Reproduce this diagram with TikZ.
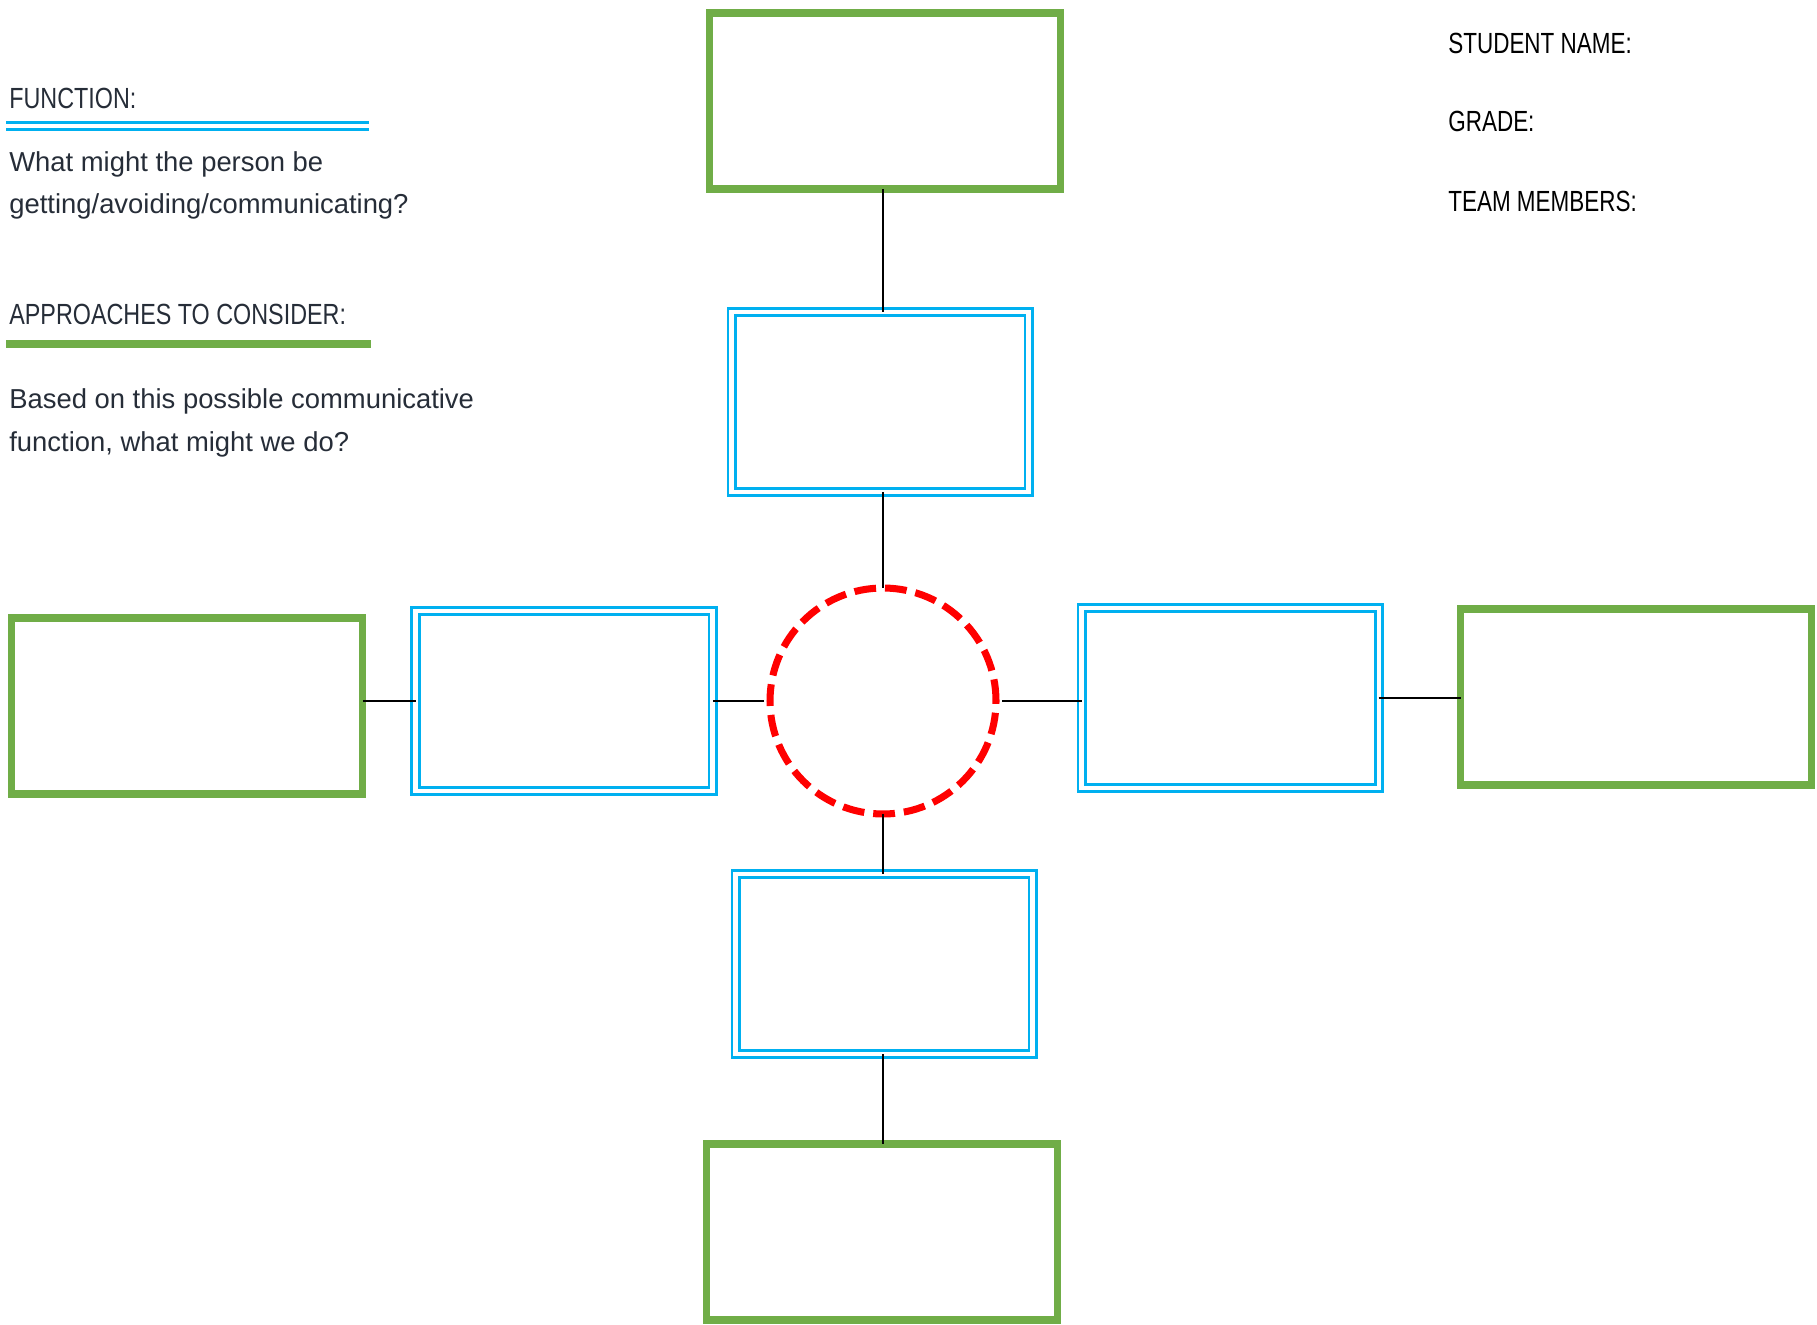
\documentclass[tikz,border=0pt]{standalone}
\usepackage{fontspec}
\setmainfont{Liberation Sans}
\newfontfamily\headfont{Liberation Sans}[FakeStretch=0.80]
\newfontfamily\infofont{Liberation Sans}[FakeStretch=0.77]
\definecolor{sheetgreen}{HTML}{70AD47}
\definecolor{sheetblue}{HTML}{00B0F0}
\definecolor{sheetred}{HTML}{FF0000}
\definecolor{inkgray}{HTML}{262D38}
\newlength{\pxu}\setlength{\pxu}{0.02cm}

\begin{document}
\begin{tikzpicture}[
    x=0.02cm, y=-0.02cm,
    outbox/.style={draw=sheetgreen, line width=4.25pt, minimum width=351\pxu,
                   minimum height=176\pxu, inner sep=0pt, outer sep=0pt},
    midbox/.style={draw=sheetblue, line width=1.7pt, double=white, double distance=2.3pt,
                   minimum width=297\pxu, minimum height=180\pxu, inner sep=0pt, outer sep=0pt},
    hub/.style={circle, draw=sheetred, line width=4pt, dash pattern=on 12.4pt off 5.1pt,
                minimum size=226\pxu, inner sep=0pt, outer sep=0pt},
    link/.style={draw=black, line width=1.5pt},
    gap/.style={shorten <=6\pxu},
    head/.style={font=\headfont\fontsize{16.6}{20}\selectfont, text=inkgray, inner sep=0pt, anchor=base west},
    body/.style={font=\fontsize{15.6}{18}\selectfont, text=inkgray, inner sep=0pt, anchor=base west},
    info/.style={font=\infofont\fontsize{16.6}{20}\selectfont, text=black, inner sep=0pt, anchor=base west},
    blurule/.style={draw=sheetblue, line width=1.7pt, double=white, double distance=2.4pt},
    grnrule/.style={draw=sheetgreen, line width=4pt},
  ]
  \useasboundingbox (0,0) rectangle (1817,1324);

  % left hand notes
  \node[head] (fnhead) at (9,109) {FUNCTION:};
  \draw[blurule] (6,126.3) -- (369,126.3);
  \node[body] (fnq1) at (9,172) {What might the person be};
  \node[body] (fnq2) at (9,214) {getting/avoiding/communicating?};
  \node[head] (aphead) at (9,324) {APPROACHES TO CONSIDER:};
  \draw[grnrule] (6,344) -- (371,344);
  \node[body] (apq1) at (9,408) {Based on this possible communicative};
  \node[body] (apq2) at (9,451) {function, what might we do?};

  % right hand fields
  \node[info] (name) at (1448,54) {STUDENT NAME:};
  \node[info] (grade) at (1448,132) {GRADE:};
  \node[info] (team) at (1448,212) {TEAM MEMBERS:};

  % the map
  \node[hub] (center) at (883,701) {};
  \node[midbox] (fnup) at (880,402) {};
  \node[midbox] (fnleft) at (564,701) {};
  \node[midbox] (fnright) at (1230,698) {};
  \node[midbox] (fndown) at (884,964) {};
  \node[outbox] (apup) at (885,101) {};
  \node[outbox] (apleft) at (187,706) {};
  \node[outbox] (apright) at (1636,697) {};
  \node[outbox] (apdown) at (882,1232) {};

  \draw[link] (apup.south -| center) -- (fnup.north -| center);
  \draw[link] (fnup.south -| center) -- (center);
  \draw[link] (center) -- (fndown.north -| center);
  \draw[link] (fndown.south -| center) -- (apdown.north -| center);
  \draw[link, gap] (center.west) -- (center.west -| fnleft.east);
  \draw[link] (fnleft.west) -- (fnleft.west -| apleft.east);
  \draw[link, gap] (center.east) -- (center.east -| fnright.west);
  \draw[link] (fnright.east) -- (fnright.east -| apright.west);
\end{tikzpicture}
\end{document}
